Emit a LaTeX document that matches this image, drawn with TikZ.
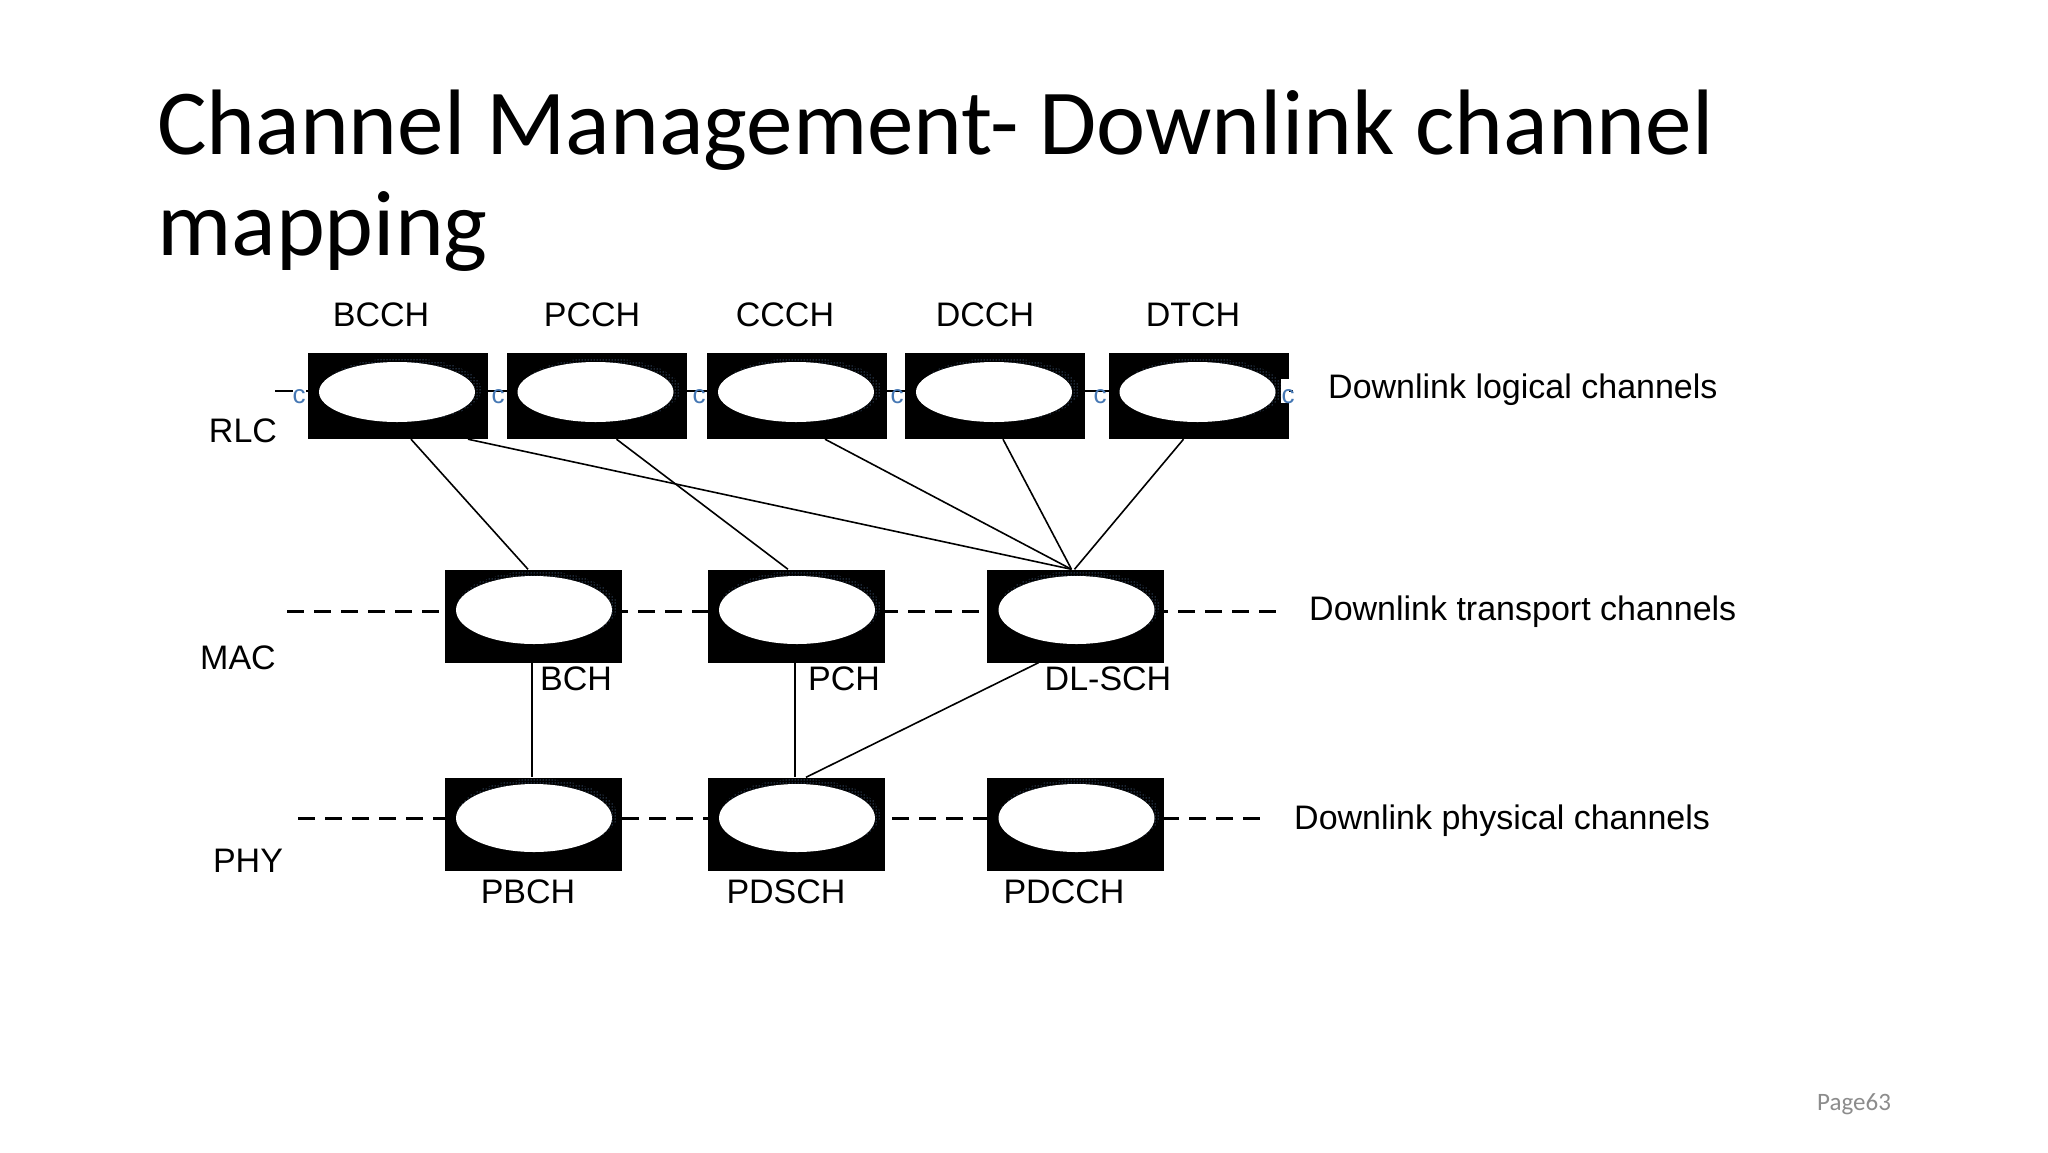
\documentclass[tikz,border=0pt]{standalone}
\usepackage{fontspec}
\setmainfont{Liberation Sans}
\newfontfamily\titlefont{Carlito}
\usetikzlibrary{patterns}
\definecolor{dotblue}{RGB}{120,165,225}
\definecolor{cblue}{RGB}{70,120,180}
\definecolor{pagegray}{RGB}{140,140,140}
\tikzset{
  chanbox/.style={rectangle, fill=black, draw=none, minimum width=180pt, minimum height=86pt, inner sep=0pt,
    path picture={
      \begin{scope}[shift={(path picture bounding box.center)}]
        \fill[pattern=dots, pattern color=dotblue] (4,-6) ellipse (80 and 32);
        \fill[white] (-1,-4) ellipse (78 and 30);
      \end{scope}}},
  lowbox/.style={rectangle, fill=black, draw=none, minimum width=177pt, minimum height=93pt, inner sep=0pt,
    path picture={
      \begin{scope}[shift={(path picture bounding box.center)}]
        \fill[pattern=dots, pattern color=dotblue] (4,-9) ellipse (80 and 36);
        \fill[white] (1,-6) ellipse (78 and 34);
      \end{scope}}},
  lbl/.style={font=\fontsize{34}{38}\selectfont, inner sep=0pt},
  conn/.style={line width=1.6pt},
  dline/.style={line width=3pt, dash pattern=on 17pt off 10pt},
  cmark/.style={font=\fontsize{26}{28}\selectfont, text=cblue, inner sep=0pt},
}
\begin{document}
\begin{tikzpicture}[x=1pt, y=-1pt]
\useasboundingbox[fill=white] (0,0) rectangle (2048,1152);

% title
\node[anchor=base west, inner sep=0pt, font=\titlefont\fontsize{93}{100}\selectfont] (t1) at (157,154) {Channel Management- Downlink channel};
\node[anchor=base west, inner sep=0pt, font=\titlefont\fontsize{93}{100}\selectfont] (t2) at (157,255) {mapping};
\node[anchor=base west, inner sep=0pt, text=pagegray, font=\titlefont\fontsize{25}{28}\selectfont] (pg) at (1817,1110) {Page63};

% dashed level lines
\coordinate (l1a) at (275,391); \coordinate (l1b) at (1293,391);
\coordinate (l2a) at (287,611); \coordinate (l2b) at (1277,611);
\coordinate (l3a) at (298,818); \coordinate (l3b) at (1260,818);
\draw[line width=2.5pt] (l1a) -- (l1b);
\draw[dline] (l2a) -- (l2b);
\draw[dline] (l3a) -- (l3b);

% top row boxes (logical channels)
\node[chanbox] (bcch) at (398,396) {};
\node[chanbox] (pcch) at (596.5,396) {};
\node[chanbox] (ccch) at (797,396) {};
\node[chanbox] (dcch) at (995,396) {};
\node[chanbox] (dtch) at (1198.5,396) {};

% small c marks
\fill[white] (1281,379) rectangle (1289,403);
\node[cmark, fill=white] (c1) at (299,397) {c};
\node[cmark] (c2) at (498,397) {c};
\node[cmark] (c3) at (699,397) {c};
\node[cmark] (c4) at (897,397) {c};
\node[cmark] (c5) at (1100,397) {c};
\node[cmark] (c6) at (1288,397) {c};

% middle row (transport)
\node[lowbox] (bch) at (533,616) {};
\node[lowbox] (pch) at (796,616) {};
\node[lowbox] (dlsch) at (1075.5,616) {};

% bottom row (physical)
\node[lowbox] (pbch) at (533,824) {};
\node[lowbox] (pdsch) at (796,824) {};
\node[lowbox] (pdcch) at (1075.5,824) {};

% connectors
\draw[conn] ([xshift=13pt]bcch.south) -- ([xshift=-5pt]bch.north);
\draw[conn] ([xshift=70pt]bcch.south) -- ([xshift=-4pt]dlsch.north);
\draw[conn] ([xshift=20pt]pcch.south) -- ([xshift=-8pt]pch.north);
\draw[conn] ([xshift=28pt]ccch.south) -- ([xshift=-4pt]dlsch.north);
\draw[conn] ([xshift=8pt]dcch.south) -- ([xshift=-4pt]dlsch.north);
\draw[conn] ([xshift=-15pt]dtch.south) -- ([xshift=-1pt]dlsch.north);
\draw[conn] ([xshift=-1pt]bch.south) -- ([xshift=-1pt]pbch.north);
\draw[conn] ([xshift=-1pt]pch.south) -- ([xshift=-1pt]pdsch.north);
\draw[conn] ([xshift=-37pt]dlsch.south) -- ([xshift=10pt]pdsch.north);

% labels
\node[lbl] (lbcch) at (381,315) {BCCH};
\node[lbl] (lpcch) at (592,315) {PCCH};
\node[lbl] (lccch) at (785,315) {CCCH};
\node[lbl] (ldcch) at (985,315) {DCCH};
\node[lbl] (ldtch) at (1193,315) {DTCH};

\node[lbl, anchor=west] (dlog) at (1328,390) {Downlink logical channels};
\node[lbl, anchor=west] (dtra) at (1309,612) {Downlink transport channels};
\node[lbl, anchor=west] (dphy) at (1294,821) {Downlink physical channels};

\node[lbl] (rlc) at (243,431) {RLC};
\node[lbl] (mac) at (238,658) {MAC};
\node[lbl] (phy) at (248,861) {PHY};

\node[lbl, anchor=west] (lbch) at (540,679) {BCH};
\node[lbl, anchor=west] (lpch) at (808,679) {PCH};
\node[lbl] (ldlsch) at (1108,679) {DL-SCH};

\node[lbl] (lpbch) at (528,892) {PBCH};
\node[lbl] (lpdsch) at (786,892) {PDSCH};
\node[lbl] (lpdcch) at (1064,892) {PDCCH};
\end{tikzpicture}
\end{document}
